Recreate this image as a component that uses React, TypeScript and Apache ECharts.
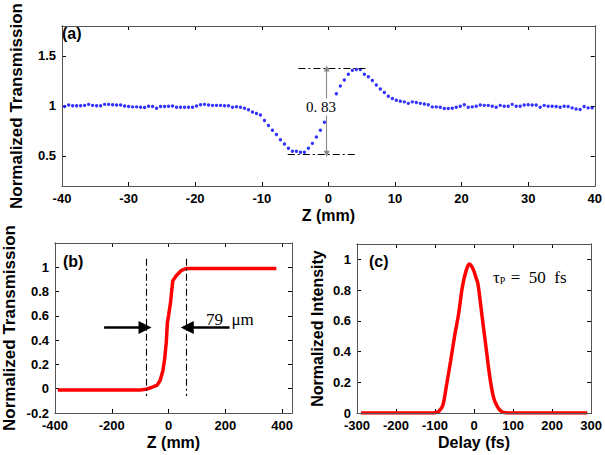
import React, { useEffect, useRef } from "react";
import * as echarts from "echarts";

// ---------- Panel (a): Z-scan, normalized transmission ----------
const zPositions = [
  -39.6, -39, -38.4, -37.8, -37.2, -36.6, -36, -35.4, -34.8, -34.2,
  -33.6, -33, -32.4, -31.8, -31.2, -30.6, -30, -29.4, -28.8, -28.2,
  -27.6, -27, -26.4, -25.8, -25.2, -24.6, -24, -23.4, -22.8, -22.2,
  -21.6, -21, -20.4, -19.8, -19.2, -18.6, -18, -17.4, -16.8, -16.2,
  -15.6, -15, -14.4, -13.8, -13.2, -12.6, -12, -11.4, -10.8, -10.2,
  -9.6, -9, -8.4, -7.8, -7.2, -6.6, -6, -5.4, -4.8, -4.2,
  -3.6, -3, -2.4, -1.8, -1.2, -0.6, 0, 0.6, 1.2, 1.8,
  2.4, 3, 3.6, 4.2, 4.8, 5.4, 6, 6.6, 7.2, 7.8,
  8.4, 9, 9.6, 10.2, 10.8, 11.4, 12, 12.6, 13.2, 13.8,
  14.4, 15, 15.6, 16.2, 16.8, 17.4, 18, 18.6, 19.2, 19.8,
  20.4, 21, 21.6, 22.2, 22.8, 23.4, 24, 24.6, 25.2, 25.8,
  26.4, 27, 27.6, 28.2, 28.8, 29.4, 30, 30.6, 31.2, 31.8,
  32.4, 33, 33.6, 34.2, 34.8, 35.4, 36, 36.6, 37.2, 37.8,
  38.4, 39, 39.6,
];
const transmission = [
  0.994, 1.009, 1.003, 1.003, 1.003, 1.006, 1.016, 1.006, 1.003, 1.003,
  1.016, 1.016, 1.013, 1.009, 1.009, 1.0, 0.994, 0.991, 0.991, 0.987,
  0.984, 0.997, 0.994, 0.978, 0.994, 0.994, 0.997, 1.0, 0.987, 0.987,
  0.987, 0.987, 0.987, 1.0, 1.013, 1.016, 1.009, 1.006, 1.006, 1.006,
  1.003, 1.003, 0.987, 0.993, 0.988, 0.978, 0.962, 0.94, 0.925, 0.909,
  0.855, 0.805, 0.758, 0.714, 0.663, 0.62, 0.578, 0.547, 0.547, 0.538,
  0.538, 0.578, 0.626, 0.689, 0.758, 0.837, 0.93, 1.035, 1.123, 1.2,
  1.26, 1.318, 1.356, 1.365, 1.365, 1.318, 1.292, 1.255, 1.21, 1.17,
  1.135, 1.098, 1.075, 1.057, 1.048, 1.041, 1.026, 1.041, 1.035, 1.026,
  1.019, 1.013, 0.991, 0.991, 0.987, 0.975, 0.975, 0.978, 0.987, 0.997,
  1.013, 0.987, 0.991, 0.997, 1.009, 1.006, 1.006, 0.997, 0.987, 1.006,
  0.997, 0.997, 1.016, 0.997, 0.997, 1.009, 1.013, 1.009, 1.009, 0.987,
  1.006, 0.997, 0.997, 0.994, 0.987, 0.997, 0.994, 0.981, 0.969, 0.965,
  0.994, 0.981, 0.981,
];
const ticksAX = [-40, -30, -20, -10, 0, 10, 20, 30, 40];
const ticksAY = [0.5, 1, 1.5];
const rangeA = { x: [-40, 40], y: [0.2, 1.8] };

// annotation of panel (a)
const peakLevel = 1.375;
const valleyLevel = 0.522;
const peakLineZ = [-4.5, 5.9];
const valleyLineZ = [-6.1, 4.3];
const arrowZ = -0.25;

// ---------- Panel (b): knife-edge ----------
const edgeZ = [-390, -300, -200, -100, -80, -60, -40, -30, -20, -14, -8, -4, 0, 7, 15, 27, 44, 62, 100, 200, 300, 380];
const edgeT = [-0.01, -0.01, -0.01, -0.01, -0.005, 0.01, 0.03, 0.065, 0.145, 0.24, 0.38, 0.545, 0.6, 0.71, 0.89, 0.93, 0.972, 0.99, 0.99, 0.99, 0.99, 0.99];
const ticksBX = [-400, -200, 0, 200, 400];
const ticksBY = [-0.2, 0, 0.2, 0.4, 0.6, 0.8, 1, 1.2];
const labelsBY = [-0.2, 0, 0.2, 0.4, 0.6, 0.8, 1];
const rangeB = { x: [-400, 435], y: [-0.2, 1.2] };
const edgeMarkers = [-77, 62];
const arrowLevel = 0.504;
const leftArrowZ = [-227, -83];
const rightArrowZ = [215, 66];

// ---------- Panel (c): autocorrelation ----------
const delay = [-290, -250, -200, -150, -110, -100, -90, -80, -70, -60, -50, -40, -30, -20, -12, -5, 0, 5, 10, 20, 30, 40, 50, 60, 70, 80, 90, 150, 200, 250, 290];
const intensity = [0, 0, 0, 0, 0, 0.002, 0.012, 0.05, 0.19, 0.34, 0.5, 0.64, 0.82, 0.93, 0.97, 0.95, 0.92, 0.88, 0.84, 0.64, 0.44, 0.24, 0.1, 0.04, 0.01, 0.001, 0, 0, 0, 0, 0];
const ticksCX = [-300, -200, -100, 0, 100, 200, 300];
const ticksCY = [0, 0.2, 0.4, 0.6, 0.8, 1];
const rangeC = { x: [-300, 300], y: [0, 1.1] };

const sans = "'Liberation Sans', Arial, sans-serif";
const serif = "'Liberation Serif', 'Times New Roman', serif";
const frame = "#000";

function xAxes(gridIndex: number, min: number, max: number, ticks: number[], name: string) {
  const common = {
    type: "value",
    gridIndex,
    min,
    max,
    splitLine: { show: false },
    axisLine: { show: true, onZero: false, lineStyle: { color: frame, width: 1 } },
    axisTick: { show: true, inside: true, length: 4, customValues: ticks, lineStyle: { color: frame, width: 1 } },
  };
  return [
    {
      ...common,
      position: "bottom",
      name,
      nameLocation: "middle",
      nameGap: 21,
      nameTextStyle: { fontFamily: sans, fontWeight: "bold", fontSize: 16, color: "#000" },
      axisLabel: { show: true, customValues: ticks, margin: 6, fontFamily: sans, fontWeight: "bold", fontSize: 13, color: "#000" },
    },
    { ...common, position: "top", axisLabel: { show: false } },
  ];
}

function yAxes(gridIndex: number, min: number, max: number, ticks: number[], labels: number[], name: string, gap: number, nameSize: number) {
  const common = {
    type: "value",
    gridIndex,
    min,
    max,
    splitLine: { show: false },
    axisLine: { show: true, onZero: false, lineStyle: { color: frame, width: 1 } },
    axisTick: { show: true, inside: true, length: 4, customValues: ticks, lineStyle: { color: frame, width: 1 } },
  };
  return [
    {
      ...common,
      position: "left",
      name,
      nameLocation: "middle",
      nameGap: gap,
      nameTextStyle: { fontFamily: sans, fontWeight: "bold", fontSize: nameSize, color: "#000" },
      axisLabel: { show: true, customValues: labels, margin: 6, fontFamily: sans, fontWeight: "bold", fontSize: 13, color: "#000" },
    },
    { ...common, position: "right", axisLabel: { show: false } },
  ];
}

function frameLines(r: { x: number[]; y: number[] }) {
  const [x0, x1] = r.x;
  const [y0, y1] = r.y;
  return [
    [{ coord: [x0, y0] }, { coord: [x1, y0] }],
    [{ coord: [x0, y1] }, { coord: [x1, y1] }],
    [{ coord: [x0, y0] }, { coord: [x0, y1] }],
    [{ coord: [x1, y0] }, { coord: [x1, y1] }],
  ];
}

function frameSeries(axisIndex: number, r: { x: number[]; y: number[] }) {
  return {
    type: "line",
    xAxisIndex: axisIndex,
    yAxisIndex: axisIndex,
    data: [],
    z: 1,
    markLine: {
      silent: true,
      symbol: "none",
      label: { show: false },
      lineStyle: { color: "#555", width: 1, type: "solid" },
      data: frameLines(r),
    },
  };
}

export default function App() {
  const ref = useRef<HTMLDivElement>(null);
  useEffect(() => {
    if (!ref.current) return;
    const chart = echarts.init(ref.current, null, { renderer: "svg" });
    const option: any = {
      animation: false,
      backgroundColor: "#fff",
      grid: [
        { left: 51, top: 17, width: 544, height: 169 },
        { left: 52, top: 243, width: 240, height: 170 },
        { left: 357, top: 244, width: 236, height: 169 },
      ],
      xAxis: [
        ...xAxes(0, rangeA.x[0], rangeA.x[1], ticksAX, "Z (mm)"),
        ...xAxes(1, rangeB.x[0], rangeB.x[1], ticksBX, "Z (mm)"),
        ...xAxes(2, rangeC.x[0], rangeC.x[1], ticksCX, "Delay (fs)"),
      ],
      yAxis: [
        ...yAxes(0, rangeA.y[0], rangeA.y[1], ticksAY, ticksAY, "Normalized Transmission", 37, 17),
        ...yAxes(1, rangeB.y[0], rangeB.y[1], ticksBY, labelsBY, "Normalized Transmission", 37, 17),
        ...yAxes(2, rangeC.y[0], rangeC.y[1], ticksCY, ticksCY, "Normalized Intensity", 32, 16),
      ],
      series: [
        frameSeries(0, rangeA),
        frameSeries(2, rangeB),
        frameSeries(4, rangeC),
        {
          type: "scatter",
          xAxisIndex: 0,
          yAxisIndex: 0,
          symbol: "circle",
          symbolSize: 3.4,
          itemStyle: { color: "#0000ff" },
          data: zPositions.map((z, i) => [z, transmission[i]]),
          markLine: {
            silent: true,
            symbol: "none",
            label: { show: false },
            lineStyle: { color: "#000", width: 1.1, type: [7, 3, 2, 3] },
            data: [
              [{ coord: [peakLineZ[0], peakLevel] }, { coord: [peakLineZ[1], peakLevel] }],
              [{ coord: [valleyLineZ[0], valleyLevel] }, { coord: [valleyLineZ[1], valleyLevel] }],
            ],
          },
        },
        {
          type: "line",
          xAxisIndex: 0,
          yAxisIndex: 0,
          data: [],
          markLine: {
            silent: true,
            symbol: ["triangle", "triangle"],
            symbolSize: 6,
            label: { show: false },
            lineStyle: { color: "#888", width: 1.1, type: "solid" },
            itemStyle: { color: "#000" },
            data: [[{ coord: [arrowZ, peakLevel] }, { coord: [arrowZ, valleyLevel] }]],
          },
        },
        {
          type: "line",
          xAxisIndex: 2,
          yAxisIndex: 2,
          showSymbol: false,
          lineStyle: { color: "#ff0000", width: 3.5 },
          data: edgeZ.map((z, i) => [z, edgeT[i]]),
          markLine: {
            silent: true,
            symbol: "none",
            label: { show: false },
            lineStyle: { color: "#000", width: 1.1, type: [7, 3, 2, 3] },
            data: edgeMarkers.map((z) => [{ coord: [z, 1.07] }, { coord: [z, -0.06] }]),
          },
        },
        {
          type: "line",
          xAxisIndex: 2,
          yAxisIndex: 2,
          data: [],
          markLine: {
            silent: true,
            symbol: ["none", "triangle"],
            symbolSize: 13,
            label: { show: false },
            lineStyle: { color: "#000", width: 2.5, type: "solid" },
            itemStyle: { color: "#000" },
            data: [
              [{ coord: [leftArrowZ[0], arrowLevel] }, { coord: [leftArrowZ[1], arrowLevel] }],
              [{ coord: [rightArrowZ[0], arrowLevel] }, { coord: [rightArrowZ[1], arrowLevel] }],
            ],
          },
        },
        {
          type: "line",
          xAxisIndex: 4,
          yAxisIndex: 4,
          showSymbol: false,
          smooth: 0.3,
          lineStyle: { color: "#ff0000", width: 3.5 },
          data: delay.map((d, i) => [d, intensity[i]]),
        },
      ],
      graphic: [
        { type: "text", x: 62, y: 33, z: 100, style: { text: "(a)", font: `bold 16px ${sans}`, fill: "#000", textVerticalAlign: "middle" } },
        { type: "text", x: 63, y: 261, z: 100, style: { text: "(b)", font: `bold 16px ${sans}`, fill: "#000", textVerticalAlign: "middle" } },
        { type: "text", x: 369, y: 261, z: 100, style: { text: "(c)", font: `bold 16px ${sans}`, fill: "#000", textVerticalAlign: "middle" } },
        {
          type: "text",
          x: 321,
          y: 107,
          z: 100,
          style: {
            text: "0. 83",
            font: `15px ${serif}`,
            fill: "#000",
            textAlign: "center",
            textVerticalAlign: "middle",
            backgroundColor: "#fff",
            padding: [1, 1],
          },
        },
        {
          type: "text",
          x: 206,
          y: 319,
          z: 100,
          style: { text: "79  μm", font: `17px ${serif}`, fill: "#000", textVerticalAlign: "middle" },
        },
        {
          type: "text",
          x: 493,
          y: 277,
          z: 100,
          style: {
            text: "{t|τ}{s|P}{t| =  50  fs}",
            fill: "#000",
            textVerticalAlign: "middle",
            rich: {
              t: { fontFamily: serif, fontSize: 17, fill: "#000" },
              s: { fontFamily: serif, fontSize: 10, fill: "#000", padding: [6, 1, 0, 0] },
            },
          },
        },
      ],
    };
    chart.setOption(option);
    return () => chart.dispose();
  }, []);
  return <div ref={ref} style={{ width: 605, height: 455, position: "absolute", left: 0, top: 0 }} />;
}
